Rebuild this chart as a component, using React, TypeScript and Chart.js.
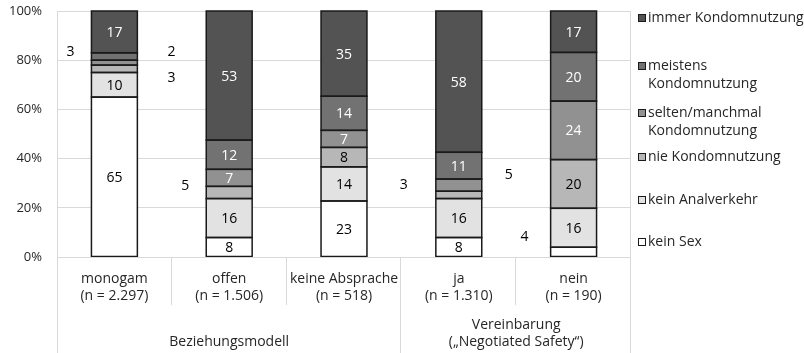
import React, { useEffect, useRef } from "react";
import { Chart, registerables } from "chart.js";
Chart.register(...registerables);

// ---------- data ----------
const categories = ["monogam", "offen", "keine Absprache", "ja", "nein"];
const sampleSizes = ["(n = 2.297)", "(n = 1.506)", "(n = 518)", "(n = 1.310)", "(n = 190)"];
const groupLabels = [["Beziehungsmodell"], ["Vereinbarung", "(\u201eNegotiated Safety\u201c)"]];
const groupSpans = [3, 2];
const yTicks = [0, 20, 40, 60, 80, 100];

// series, bottom to top (percent)
const keinSex = [65, 8, 23, 8, 4];
const keinAnalverkehr = [10, 16, 14, 16, 16];
const nieKondom = [3, 5, 8, 3, 20];
const seltenKondom = [2, 7, 7, 5, 24];
const meistensKondom = [3, 12, 14, 11, 20];
const immerKondom = [17, 53, 35, 58, 17];

const seriesNames = [
  "kein Sex",
  "kein Analverkehr",
  "nie Kondomnutzung",
  "selten/manchmal Kondomnutzung",
  "meistens Kondomnutzung",
  "immer Kondomnutzung",
];
const seriesValues = [keinSex, keinAnalverkehr, nieKondom, seltenKondom, meistensKondom, immerKondom];

// ---------- style ----------
const FONT = "'Open Sans', sans-serif";
const TEXT = "#262626";
const GRID = "#d9d9d9";
const seriesColors = ["#ffffff", "#e2e2e2", "#b7b7b7", "#919191", "#727272", "#535353"];
const labelColors = ["#000000", "#000000", "#000000", "#ffffff", "#ffffff", "#ffffff"];
const legendLines = [
  ["immer Kondomnutzung"],
  ["meistens", "Kondomnutzung"],
  ["selten/manchmal", "Kondomnutzung"],
  ["nie Kondomnutzung"],
  ["kein Analverkehr"],
  ["kein Sex"],
];
const legendColors = ["#535353", "#727272", "#919191", "#b7b7b7", "#e2e2e2", "#ffffff"];
const legendFirstLineY = [18, 66, 113, 157, 200, 242];
// manual placement of small-value labels (relative to bar centre / segment centre)
const outsideLabels = [
  { cat: 0, series: 4, dx: -44, dy: -4 },
  { cat: 0, series: 3, dx: 57, dy: -11 },
  { cat: 0, series: 2, dx: 57, dy: 9 },
  { cat: 1, series: 2, dx: -44, dy: -6 },
  { cat: 3, series: 2, dx: -55, dy: -10 },
  { cat: 3, series: 3, dx: 50, dy: -10 },
  { cat: 4, series: 0, dx: -49, dy: -15 },
];

const totals = categories.map((_, i) => seriesValues.reduce((s, arr) => s + arr[i], 0));

export default function App() {
  const ref = useRef<HTMLCanvasElement | null>(null);

  useEffect(() => {
    if (!ref.current) return;

    const decorPlugin = {
      id: "decor",
      afterDatasetsDraw(chart: any) {
        const ctx = chart.ctx;
        ctx.save();
        ctx.strokeStyle = "#1a1a1a";
        ctx.lineWidth = 1.5;
        chart.data.datasets.forEach((ds: any, si: number) => {
          const meta = chart.getDatasetMeta(si);
          meta.data.forEach((bar: any) => {
            const w = bar.width;
            const top = Math.min(bar.y, bar.base);
            const h = Math.abs(bar.base - bar.y);
            ctx.strokeRect(bar.x - w / 2, top, w, h);
          });
        });
        ctx.font = `14px ${FONT}`;
        ctx.textAlign = "center";
        ctx.textBaseline = "middle";
        chart.data.datasets.forEach((ds: any, si: number) => {
          const meta = chart.getDatasetMeta(si);
          meta.data.forEach((bar: any, ci: number) => {
            const raw = seriesValues[si][ci];
            const cy = (bar.y + bar.base) / 2;
            const out = outsideLabels.find((o) => o.cat === ci && o.series === si);
            if (out) {
              ctx.fillStyle = "#000000";
              ctx.fillText(String(raw), bar.x + out.dx, cy + out.dy);
            } else if (raw > 5) {
              ctx.fillStyle = labelColors[si];
              ctx.fillText(String(raw), bar.x, cy + 1);
            }
          });
        });
        ctx.restore();
      },
      afterDraw(chart: any) {
        const ctx = chart.ctx;
        const area = chart.chartArea;
        const n = categories.length;
        const cw = (area.right - area.left) / n;
        const H = chart.height;
        ctx.save();
        ctx.strokeStyle = GRID;
        ctx.lineWidth = 1;
        ctx.beginPath();
        ctx.moveTo(Math.round(area.left) + 0.5, area.top);
        ctx.lineTo(Math.round(area.left) + 0.5, H);
        ctx.moveTo(Math.round(area.right) - 0.5, area.top);
        ctx.lineTo(Math.round(area.right) - 0.5, area.bottom);
        ctx.moveTo(area.left, Math.round(area.bottom) + 0.5);
        ctx.lineTo(area.right, Math.round(area.bottom) + 0.5);
        ctx.stroke();
        let acc = 0;
        const groupBounds = [0];
        groupSpans.forEach((s) => {
          acc += s;
          groupBounds.push(acc);
        });
        for (let i = 1; i <= n; i++) {
          const x = Math.round(area.left + i * cw) - 0.5;
          const full = groupBounds.includes(i);
          ctx.beginPath();
          ctx.moveTo(x, area.bottom);
          ctx.lineTo(x, full ? H : area.bottom + 48);
          ctx.stroke();
        }
        ctx.fillStyle = TEXT;
        ctx.font = `14px ${FONT}`;
        ctx.textAlign = "center";
        ctx.textBaseline = "middle";
        categories.forEach((c, i) => {
          const cx = area.left + (i + 0.5) * cw;
          ctx.fillText(c, cx, area.bottom + 22);
          ctx.fillText(sampleSizes[i], cx, area.bottom + 39);
        });
        groupLabels.forEach((lines, g) => {
          const x0 = area.left + groupBounds[g] * cw;
          const x1 = area.left + groupBounds[g + 1] * cw;
          const cx = (x0 + x1) / 2;
          const lh = 17;
          const lastY = area.bottom + 85;
          lines.forEach((t, k) => {
            ctx.fillText(t, cx, lastY - (lines.length - 1 - k) * lh);
          });
        });
        ctx.textAlign = "left";
        const lx = area.right + 7;
        legendLines.forEach((lines, i) => {
          const y = legendFirstLineY[i];
          ctx.fillStyle = legendColors[i];
          ctx.fillRect(lx + 0.5, y - 3.5, 7, 7);
          ctx.strokeStyle = "#1a1a1a";
          ctx.lineWidth = 1;
          ctx.strokeRect(lx + 0.5, y - 3.5, 7, 7);
          ctx.fillStyle = TEXT;
          lines.forEach((t, k) => {
            ctx.fillText(t, lx + 10, y + k * 18);
          });
        });
        ctx.restore();
      },
    };

    const chart = new Chart(ref.current, {
      type: "bar",
      data: {
        labels: categories,
        datasets: seriesNames.map((name, si) => ({
          label: name,
          data: seriesValues[si].map((v, ci) => (v / totals[ci]) * 100),
          backgroundColor: seriesColors[si],
          borderWidth: 0,
          barPercentage: 0.4,
          categoryPercentage: 1,
        })),
      },
      options: {
        animation: false,
        responsive: true,
        maintainAspectRatio: false,
        layout: { padding: { top: 11, right: 173, bottom: 96, left: 0 } },
        plugins: { legend: { display: false }, tooltip: { enabled: false } },
        scales: {
          x: { stacked: true, display: false },
          y: {
            stacked: true,
            min: 0,
            max: 100,
            afterFit: (s: any) => {
              s.width = 57;
              s.paddingTop = 0;
              s.paddingBottom = 0;
            },
            afterBuildTicks: (s: any) => {
              s.ticks = yTicks.map((v) => ({ value: v }));
            },
            ticks: {
              callback: (v: any) => v + "%",
              font: { family: FONT, size: 13 },
              color: TEXT,
              padding: 15,
            },
            grid: { color: GRID, drawTicks: false },
            border: { display: false },
          },
        },
      },
      plugins: [decorPlugin],
    });
    return () => chart.destroy();
  }, []);

  return (
    <div style={{ position: "fixed", left: 0, top: 0, width: 804, height: 353, background: "#fff" }}>
      <canvas ref={ref} />
    </div>
  );
}
